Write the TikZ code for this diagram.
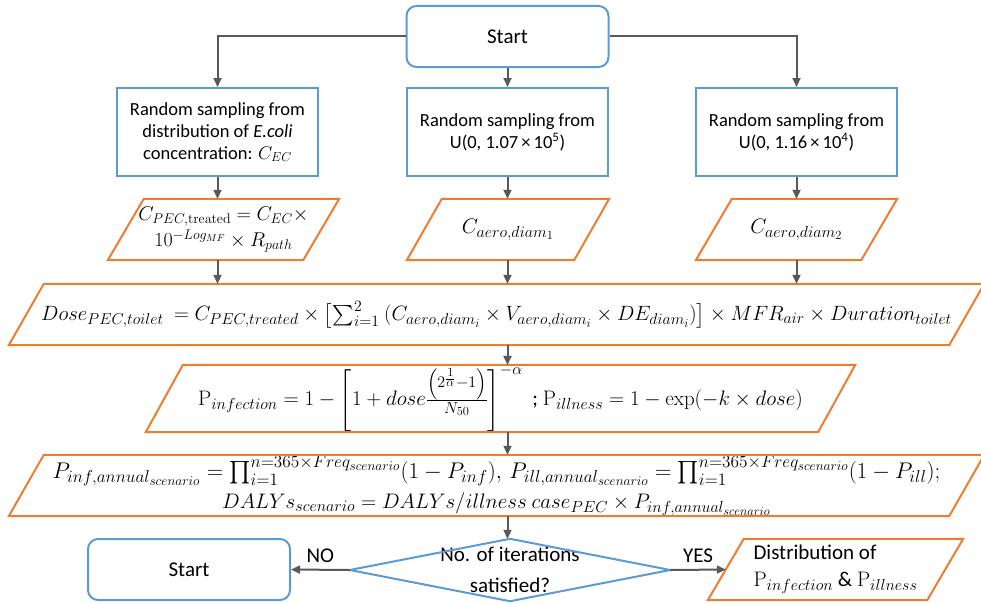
\RequirePackage{fix-cm}
\documentclass[tikz,border=0pt]{standalone}
\usepackage[no-math]{fontspec}
\setmainfont{Carlito}
\usepackage{amsmath}
\usepackage{graphicx}
\DeclareMathSizes{21}{21}{16}{12.5}
\usetikzlibrary{arrows.meta,calc}
\definecolor{bl}{RGB}{91,155,213}
\definecolor{og}{RGB}{237,125,49}
\definecolor{gr}{RGB}{89,89,89}
\begin{document}
\begin{tikzpicture}[x=1pt,y=-1pt,
  startbox/.style={draw=bl, line width=2pt, rounded corners=10pt, minimum width=202pt, minimum height=61pt, inner sep=0pt, font=\fontsize{21}{25}\selectfont},
  sampbox/.style={draw=bl, line width=2pt, minimum width=201pt, minimum height=88pt, inner sep=0pt, align=center, font=\fontsize{18.5}{22}\selectfont},
  paranode/.style={inner sep=0pt, minimum height=61pt, align=center, font=\fontsize{21}{25}\selectfont},
  paraline/.style={draw=og, line width=2pt, line join=miter},
  dialine/.style={draw=bl, line width=2pt},
  lbl/.style={font=\fontsize{21}{25}\selectfont},
  arr/.style={draw=gr, line width=2pt, -{Triangle[length=9pt,width=8pt]}}]
\useasboundingbox (0,0) rectangle (981,602);

% nodes
\node[startbox] (start) at (507.5,36.5) {Start};
\node[sampbox] (box1) at (217.5,132) {Random sampling from\\ distribution of \textit{E.coli}\\ concentration: $C_{EC}$};
\node[sampbox] (box2) at (507.5,132) {Random sampling from\\ U(0, 1.07\,×\,10\textsuperscript{5})};
\node[sampbox] (box3) at (796.5,132) {Random sampling from\\ U(0, 1.16\,×\,10\textsuperscript{4})};

\node[paranode, minimum width=231pt, font=\fontsize{20}{25}\selectfont] (p1) at (223.5,229.5) {$C_{PEC,\mathrm{treated}} = C_{EC}\times$\\[1pt] $10^{-Log_{MF}}\times R_{path}$};
\node[paranode, minimum width=202pt] (p2) at (508,229.5) {$C_{aero,diam_1}$};
\node[paranode, minimum width=201pt] (p3) at (796.5,229.5) {$C_{aero,diam_2}$};

\node[paranode, minimum width=975pt] (dose) at (496.5,314.5) {\scalebox{0.985}{$Dose_{PEC,toilet}\ = C_{PEC,treated}\times\bigl[\sum_{i=1}^{2}\ (C_{aero,diam_i}\times V_{aero,diam_i}\times DE_{diam_i})\bigr]\times MFR_{air}\times Duration_{toilet}$}};

\node[paranode, minimum width=709pt] (pinf) at (500.5,398.5) {$\mathrm{P}_{infection} = 1-\left[1+dose\frac{\left(2^{\frac{1}{\alpha}}-1\right)}{N_{50}}\right]^{-\alpha}$\ \ ;\ $\mathrm{P}_{illness} = 1-\exp(-k\times dose)$};

\node[paranode, minimum width=975pt, font=\fontsize{21}{30}\selectfont] (ann) at (496.5,485.5) {\scalebox{1.08}{$P_{inf,annual_{scenario}} = \prod_{i=1}^{n=365\times Freq_{scenario}}(1-P_{inf}),\, P_{ill,annual_{scenario}} = \prod_{i=1}^{n=365\times Freq_{scenario}}(1-P_{ill});$}\\ $DALYs_{scenario} = DALYs/illness\ case_{PEC}\times P_{inf,annual_{scenario}}$};

\node[inner sep=0pt, minimum width=320pt, minimum height=62pt, align=center, font=\fontsize{21}{31}\selectfont] (dia) at (510,570) {\raisebox{-4pt}{\parbox{200pt}{\centering No. of iterations\\ satisfied?}}};
\node[startbox] (start2) at (189,569.5) {Start};
\node[paranode, minimum width=255pt, font=\fontsize{21}{27}\selectfont, align=left] (fin) at (835.5,569.5) {Distribution of\\ $\mathrm{P}_{infection}$ \& $\mathrm{P}_{illness}$};
\coordinate (finL) at ([xshift=18pt]fin.west);

% parallelograms
\foreach \n/\s in {p1/36,p2/35,p3/36,dose/35,pinf/37,ann/35,fin/36}
  \draw[paraline] ([xshift=\s pt]\n.north west) -- (\n.north east) -- ([xshift=-\s pt]\n.south east) -- (\n.south west) -- cycle;
% diamond
\draw[dialine] (dia.north) -- (dia.east) -- (dia.south) -- (dia.west) -- cycle;

% connectors
\draw[arr] (start.west) -| (box1.north);
\draw[arr] (start.east) -| (box3.north);
\draw[arr] (start.south) -- (box2.north);
\draw[arr] (box1.south) -- (box1.south |- p1.north);
\draw[arr] (box2.south) -- (box2.south |- p2.north);
\draw[arr] (box3.south) -- (box3.south |- p3.north);
\draw[arr] (box1.south |- p1.south) -- (box1.south |- dose.north);
\draw[arr] (box2.south |- p2.south) -- (box2.south |- dose.north);
\draw[arr] (box3.south |- p3.south) -- (box3.south |- dose.north);
\draw[arr] (start.south |- dose.south) -- (start.south |- pinf.north);
\draw[arr] (start.south |- pinf.south) -- (start.south |- ann.north);
\draw[arr] (start.south |- ann.south) -- (start.south |- dia.north);
\draw[arr] (dia.west) -- node[lbl, above=3pt] {NO} (start2.east);
\draw[arr] (dia.east) -- node[lbl, above=3pt] {YES} (finL);
\end{tikzpicture}
\end{document}
